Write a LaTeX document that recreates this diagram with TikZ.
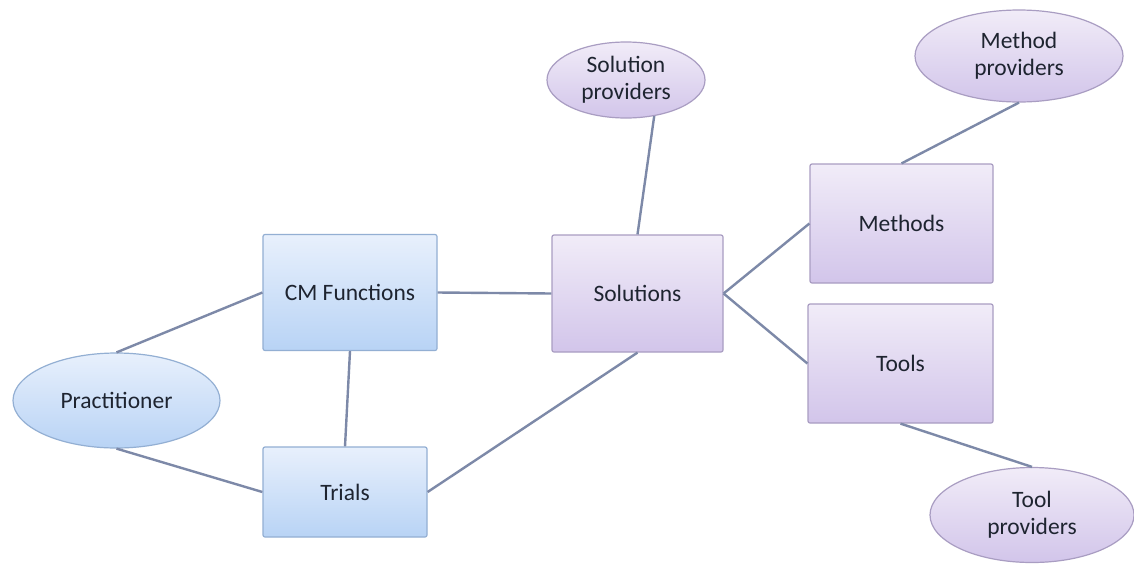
\documentclass[tikz,border=0pt]{standalone}
\usepackage{fontspec}
\setmainfont{Carlito}
\usetikzlibrary{shapes.geometric}
\definecolor{bluetop}{HTML}{E8F0FC}
\definecolor{bluebot}{HTML}{B8D3F5}
\definecolor{blueedge}{HTML}{93AFD3}
\definecolor{purptop}{HTML}{F1ECF8}
\definecolor{purpbot}{HTML}{D2C5EA}
\definecolor{purpedge}{HTML}{A99DC2}
\definecolor{linkcol}{HTML}{7D89A8}
\definecolor{txtcol}{HTML}{1E2430}
\tikzset{
  x=1pt, y=-1pt,
  every node/.style={font=\fontsize{23.5}{27}\selectfont, text=txtcol, align=center, inner sep=0pt},
  bluebox/.style={rectangle, rounded corners=2pt, draw=blueedge, line width=1.2pt,
    top color=bluetop, bottom color=bluebot},
  purpbox/.style={rectangle, rounded corners=2pt, draw=purpedge, line width=1.2pt,
    top color=purptop, bottom color=purpbot},
  blueoval/.style={ellipse, draw=blueedge, line width=1.2pt,
    top color=bluetop, bottom color=bluebot},
  purpoval/.style={ellipse, draw=purpedge, line width=1.2pt,
    top color=purptop, bottom color=purpbot},
  link/.style={draw=linkcol, line width=2.4pt}
}
\begin{document}
\begin{tikzpicture}
\useasboundingbox (0,0) rectangle (1134,563);
\fill[white] (0,0) rectangle (1134,563);

% rectangular entities
\node[bluebox, minimum width=174pt, minimum height=116pt] (cm) at (350,292.5) {CM Functions};
\node[bluebox, minimum width=164pt, minimum height=90pt] (trials) at (345,492) {Trials};
\node[purpbox, minimum width=171pt, minimum height=117pt] (sol) at (637.5,293.5) {Solutions};
\node[purpbox, minimum width=183pt, minimum height=119pt] (meth) at (901.5,223.5) {Methods};
\node[purpbox, minimum width=185pt, minimum height=119pt] (tools) at (900.5,363.5) {Tools};

% actors
\node[blueoval, minimum width=207pt, minimum height=95pt] (prac) at (116.5,400.5) {Practitioner};
\node[purpoval, minimum width=158pt, minimum height=76pt] (solp) at (626,80) {Solution\\providers};
\node[purpoval, minimum width=208pt, minimum height=92pt] (methp) at (1019,56) {Method\\providers};
\node[purpoval, minimum width=204pt, minimum height=95pt] (toolp) at (1032,515) {Tool\\providers};

% relations
\draw[link] (prac.north) -- (cm.west);
\draw[link] (prac.south) -- (trials.west);
\draw[link] (cm.east) -- (sol.west);
\draw[link] (cm.south) -- (trials.north);
\draw[link] (trials.east) -- (sol.south);
\draw[link] (solp.-52) -- (sol.north);
\draw[link] (sol.east) -- (meth.west);
\draw[link] (sol.east) -- (tools.west);
\draw[link] (meth.north) -- (methp.south);
\draw[link] (tools.south) -- (toolp.north);
\end{tikzpicture}
\end{document}
